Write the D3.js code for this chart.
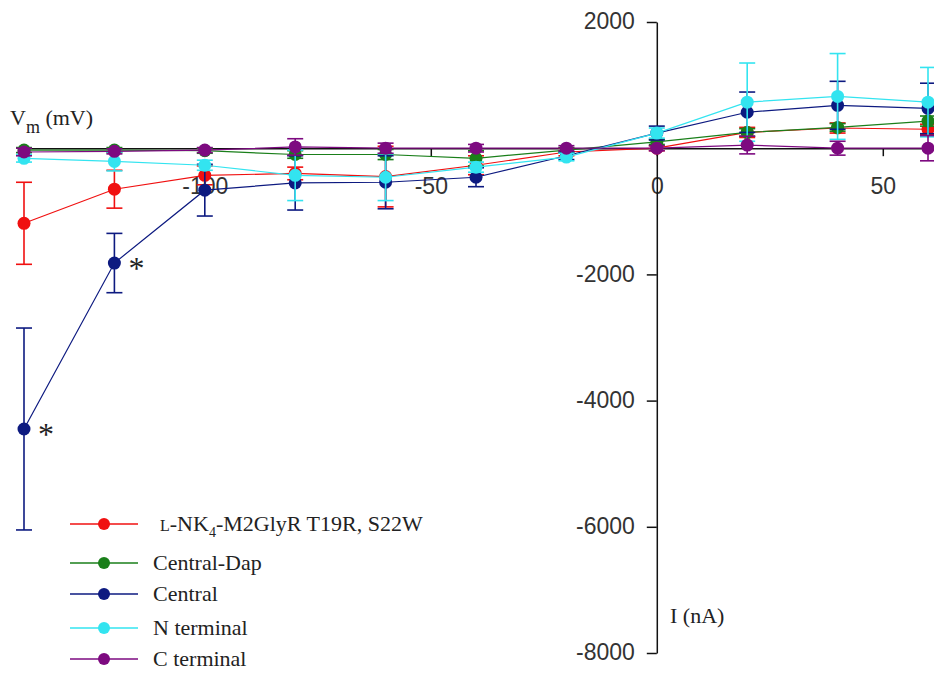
<!DOCTYPE html>
<html>
<head>
<meta charset="utf-8">
<script src="https://cdn.jsdelivr.net/npm/d3@7"></script>
<style>
  html, body { margin: 0; padding: 0; background: #fff; overflow: hidden; }
  svg { display: block; }
  .tick text { font-family: "Liberation Sans", Arial, sans-serif; font-size: 23px; fill: #333; }
  .serif { font-family: "Liberation Serif", "Times New Roman", serif; fill: #222; }
</style>
</head>
<body>
<svg id="chart" width="934" height="674"></svg>
<script>
// ---------------------------------------------------------------------------
// Data: holding potential in mV, current in nA
// ---------------------------------------------------------------------------
const volts = [-140, -120, -100, -80, -60, -40, -20, 0, 20, 40, 60];

const redMean    = [-1190, -650, -430, -400, -450, -270, -60, 0, 250, 320, 300];
const redErr     = [650, 300, 150, 100, 480, 150, 60, 40, 80, 80, 80];
const greenMean  = [-30, -30, -40, -100, -100, -160, -30, 100, 250, 330, 430];
const greenErr   = [40, 40, 40, 60, 80, 120, 40, 40, 60, 60, 80];
const blueMean   = [-4450, -1820, -665, -550, -540, -460, -120, 240, 570, 680, 630];
const blueErr    = [1600, 470, 410, 430, 420, 150, 60, 110, 320, 380, 400];
const cyanMean   = [-160, -210, -270, -430, -460, -300, -140, 240, 730, 820, 730];
const cyanErr    = [60, 150, 80, 400, 370, 80, 60, 80, 620, 680, 550];
const purpleMean = [-60, -50, -30, 20, 0, 0, 0, 0, 50, 0, 0];
const purpleErr  = [60, 40, 40, 130, 80, 60, 40, 40, 140, 110, 200];

const seriesNames = ['L-NK4-M2GlyR T19R, S22W', 'Central-Dap', 'Central', 'N terminal', 'C terminal'];
const seriesColors = ['#f01010', '#1a7f1a', '#0d1a80', '#33e4f0', '#7d0a80'];

const xTicks = [-100, -50, 0, 50];
const yTicks = [-8000, -6000, -4000, -2000, 2000];

// significance marks (Central series)
const starVolts = [-140, -120];

// ---------------------------------------------------------------------------
const svg = d3.select('#chart');

const x = d3.scaleLinear().domain([-140, 60]).range([24, 928]);
const y = d3.scaleLinear().domain([-8000, 2000]).range([653, 22]);

// plain hyphen-minus, no thousands separator
const fmt = d => String(d);

const series = [
  { mean: redMean, err: redErr },
  { mean: greenMean, err: greenErr },
  { mean: blueMean, err: blueErr },
  { mean: cyanMean, err: cyanErr },
  { mean: purpleMean, err: purpleErr }
].map((s, i) => ({
  name: seriesNames[i],
  color: seriesColors[i],
  points: volts.map((v, j) => ({ v, m: s.mean[j], e: s.err[j] }))
}));

// x axis through I = 0, ticks pointing down
const xAxisScale = x.copy().domain([-140, 62]).range([x(-140), x(62)]);
const xAxis = svg.append('g')
  .attr('transform', `translate(0,${y(0)})`)
  .call(d3.axisBottom(xAxisScale).tickValues(xTicks).tickFormat(fmt)
    .tickSize(8).tickPadding(21).tickSizeOuter(0));
xAxis.select('.domain').attr('stroke', '#111').attr('stroke-width', 1.5);
xAxis.selectAll('.tick line').attr('stroke', '#111').attr('stroke-width', 1.5);

// y axis through V = 0, ticks to the left
const yAxis = svg.append('g')
  .attr('transform', `translate(${x(0)},0)`)
  .call(d3.axisLeft(y).tickValues(yTicks).tickFormat(fmt)
    .tickSize(10).tickPadding(12).tickSizeOuter(0));
yAxis.select('.domain').attr('stroke', '#111').attr('stroke-width', 1.5);
yAxis.selectAll('.tick line').attr('stroke', '#111').attr('stroke-width', 1.5);
yAxis.selectAll('.tick text').attr('dy', '0.3em');

// axis titles
const vm = svg.append('text').attr('class', 'serif').attr('x', 10).attr('y', 125).attr('font-size', 22);
vm.append('tspan').text('V');
vm.append('tspan').attr('dy', 8).attr('font-size', 18).text('m');
vm.append('tspan').attr('dy', -8).text(' (mV)');

svg.append('text').attr('class', 'serif')
  .attr('x', 670).attr('y', 623).attr('font-size', 22)
  .text('I (nA)');

// ---------------------------------------------------------------------------
// series: lines, error bars, markers
// ---------------------------------------------------------------------------
const line = d3.line().x(d => x(d.v)).y(d => y(d.m));

const g = svg.selectAll('g.series')
  .data(series)
  .join('g')
  .attr('class', 'series');

g.append('path')
  .attr('d', d => line(d.points))
  .attr('fill', 'none')
  .attr('stroke', d => d.color)
  .attr('stroke-width', 1.2);

g.each(function(s) {
  const eb = d3.select(this).selectAll('g.eb')
    .data(s.points)
    .join('g')
    .attr('class', 'eb')
    .attr('stroke', s.color)
    .attr('stroke-width', 1.6);
  eb.append('line')
    .attr('x1', d => x(d.v)).attr('x2', d => x(d.v))
    .attr('y1', d => y(d.m - d.e)).attr('y2', d => y(d.m + d.e));
  eb.append('line')
    .attr('x1', d => x(d.v) - 8).attr('x2', d => x(d.v) + 8)
    .attr('y1', d => y(d.m + d.e)).attr('y2', d => y(d.m + d.e));
  eb.append('line')
    .attr('x1', d => x(d.v) - 8).attr('x2', d => x(d.v) + 8)
    .attr('y1', d => y(d.m - d.e)).attr('y2', d => y(d.m - d.e));
});

g.selectAll('circle')
  .data(d => d.points.map(p => ({ ...p, color: d.color })))
  .join('circle')
  .attr('cx', d => x(d.v))
  .attr('cy', d => y(d.m))
  .attr('r', 6.5)
  .attr('fill', d => d.color);

// asterisks next to Central points
svg.selectAll('text.star')
  .data(starVolts)
  .join('text')
  .attr('class', 'star serif')
  .attr('x', v => x(v) + 14)
  .attr('y', v => y(blueMean[volts.indexOf(v)]) + 16)
  .attr('font-size', 32)
  .attr('fill', '#111')
  .text('*');

// ---------------------------------------------------------------------------
// legend
// ---------------------------------------------------------------------------
const legendY = [524, 563, 594, 628, 659];
const lg = svg.selectAll('g.legend')
  .data(series)
  .join('g')
  .attr('class', 'legend')
  .attr('transform', (d, i) => `translate(0,${legendY[i]})`);

lg.append('line')
  .attr('x1', 70).attr('x2', 138)
  .attr('stroke', d => d.color).attr('stroke-width', 1.4);
lg.append('circle')
  .attr('cx', 104).attr('r', 6)
  .attr('fill', d => d.color);

lg.each(function(d, i) {
  const t = d3.select(this).append('text')
    .attr('class', 'serif')
    .attr('x', i === 0 ? 160 : 153)
    .attr('y', 7)
    .attr('font-size', 22);
  if (i === 0) {
    t.append('tspan').attr('font-size', 16).text('L');
    t.append('tspan').text('-NK');
    t.append('tspan').attr('font-size', 14).attr('dy', 6).text('4');
    t.append('tspan').attr('dy', -6).text('-M2GlyR T19R, S22W');
  } else {
    t.text(d.name);
  }
});
</script>
</body>
</html>
